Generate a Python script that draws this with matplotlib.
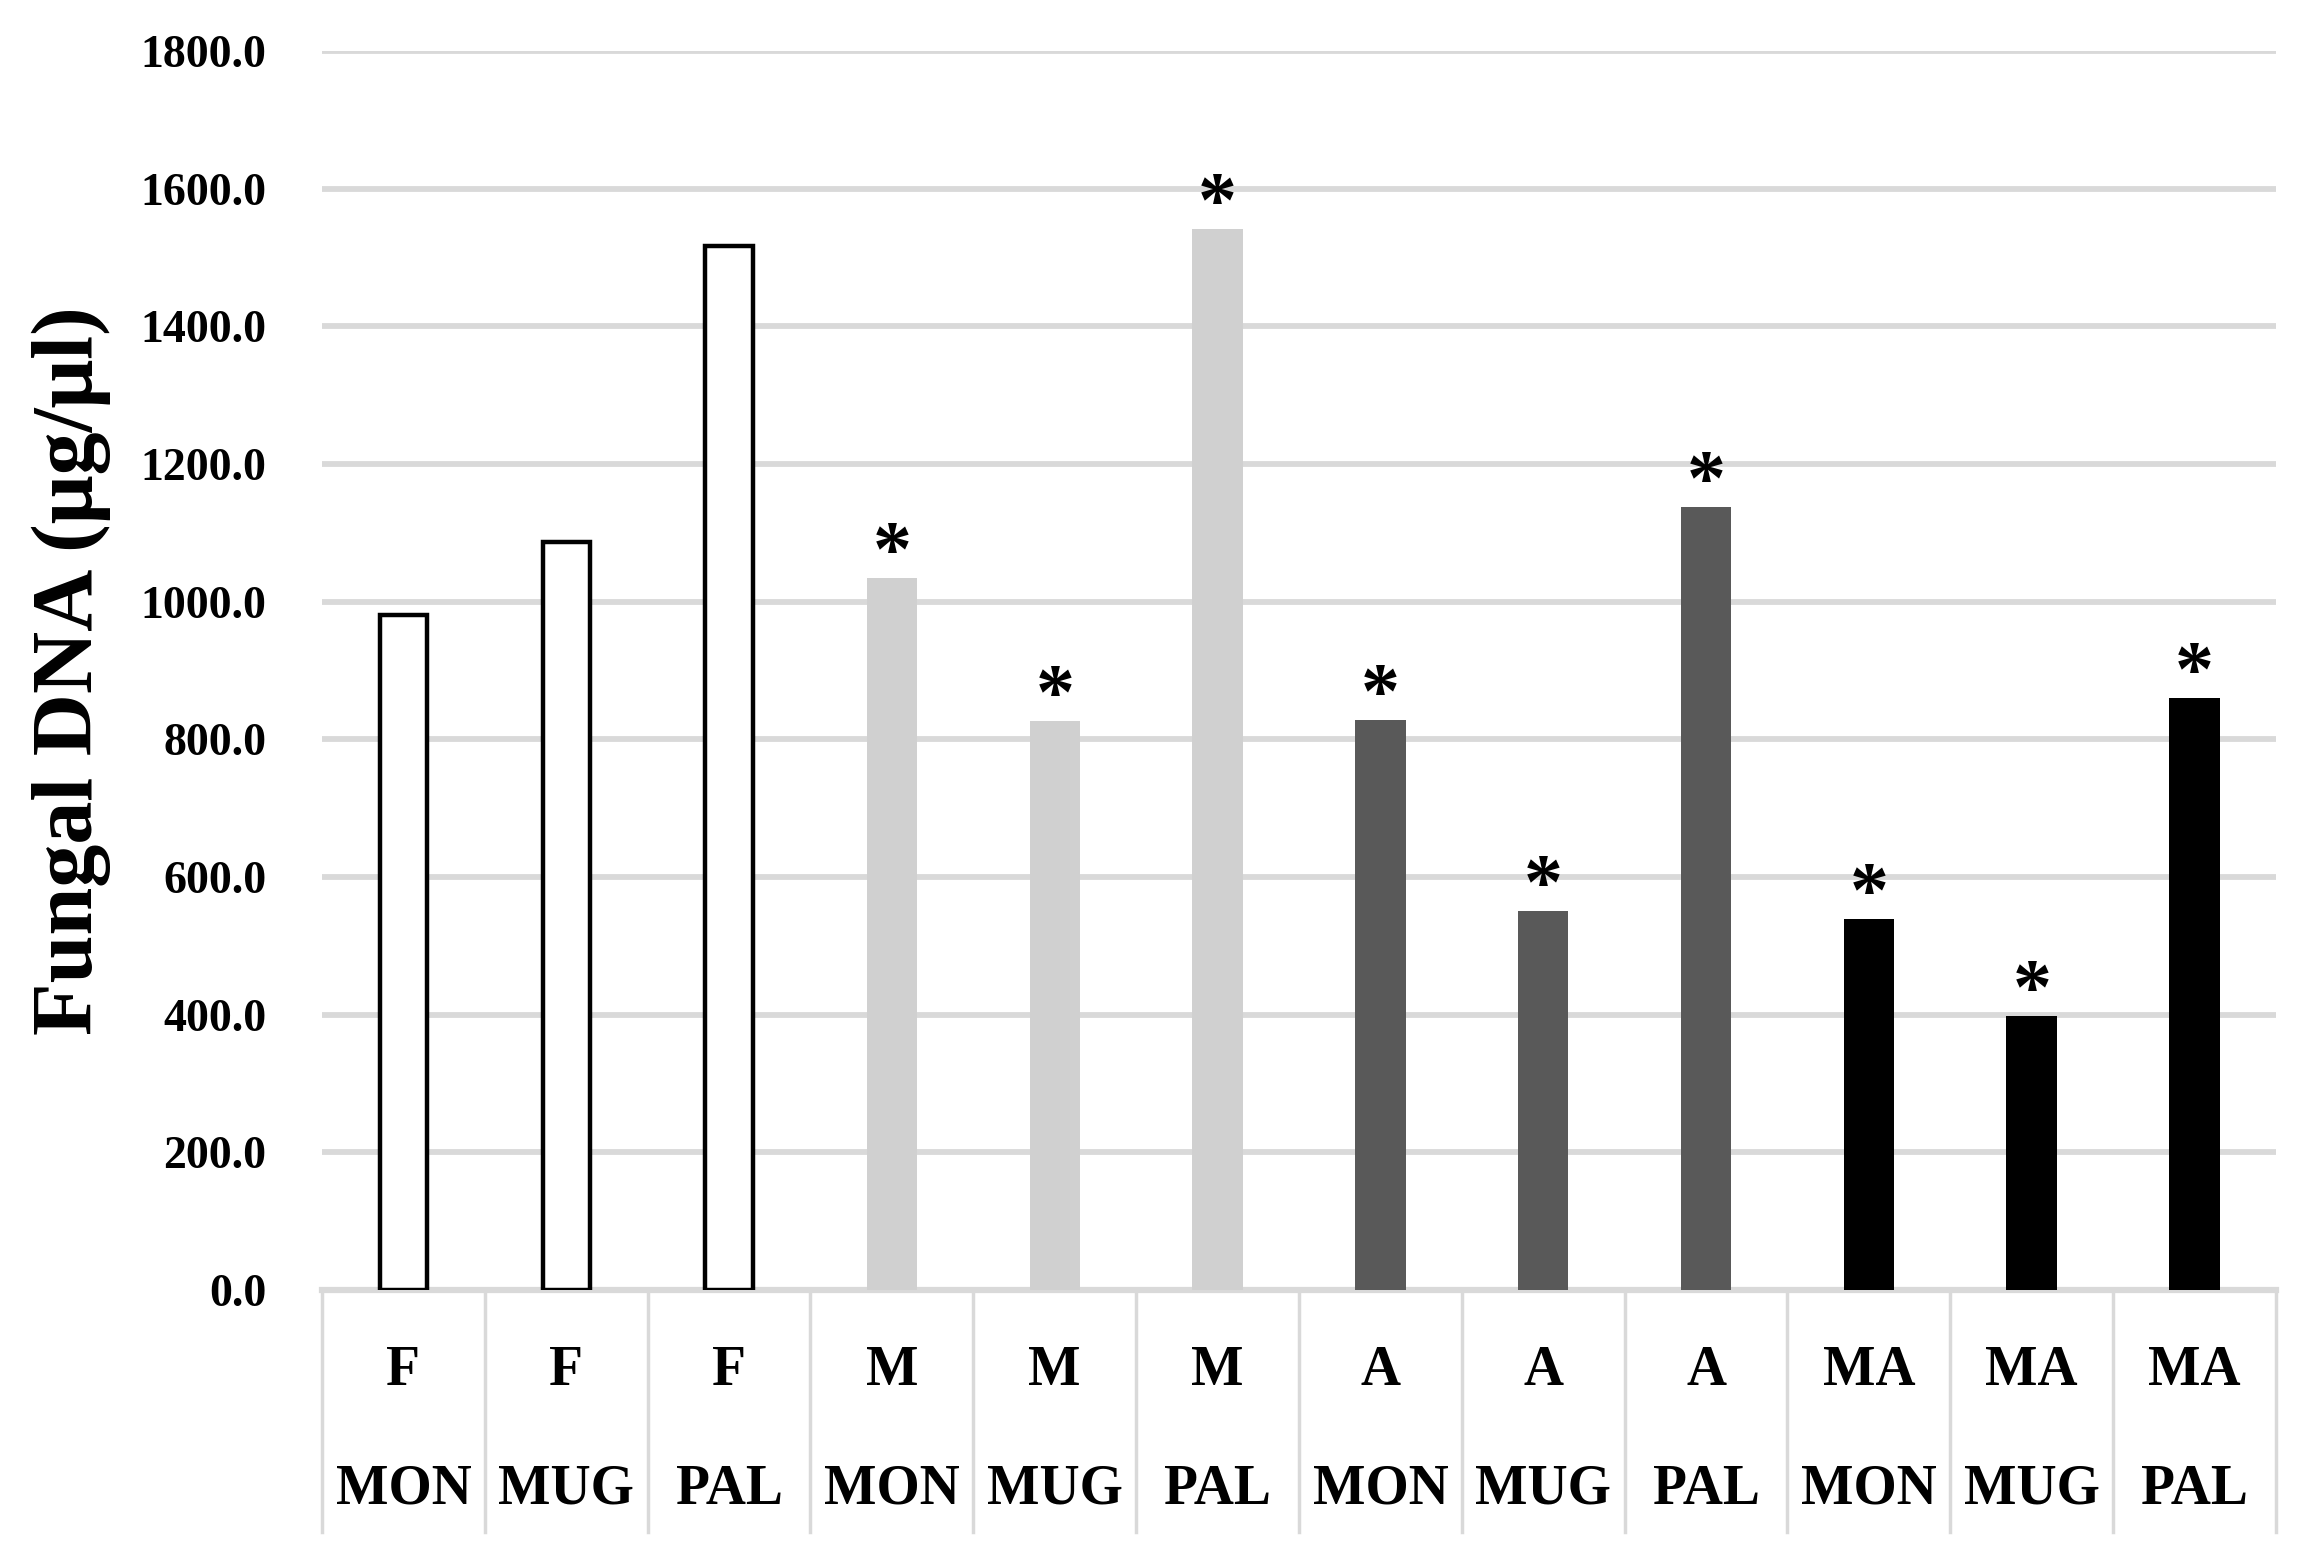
import matplotlib.pyplot as plt
from matplotlib.transforms import blended_transform_factory

# treatment (row 1) and cultivar (row 2) for each bar
treatments = ['F', 'F', 'F', 'M', 'M', 'M', 'A', 'A', 'A', 'MA', 'MA', 'MA']
cultivars = ['MON', 'MUG', 'PAL'] * 4
fungal_dna = [980, 1087, 1517, 1034, 826, 1541, 828, 550, 1137, 539, 398, 860]
significant = [False, False, False, True, True, True, True, True, True, True, True, True]

fill = {'F': 'white', 'M': '#d0d0d0', 'A': '#595959', 'MA': 'black'}

plt.rcParams['font.family'] = ['Liberation Serif', 'DejaVu Serif']
plt.rcParams['font.weight'] = 'bold'

fig = plt.figure(figsize=(23.05, 15.55), dpi=100)
ax = fig.add_axes([0.1397, 0.1704, 0.8477, 0.7968])

x = list(range(len(fungal_dna)))
for i in x:
    t = treatments[i]
    if t == 'F':
        ax.bar(i, fungal_dna[i], width=0.29, color='white', edgecolor='black', linewidth=3.2, zorder=3)
    else:
        ax.bar(i, fungal_dna[i], width=0.31, color=fill[t], linewidth=0, zorder=3)
    if significant[i]:
        ax.annotate('*', (i, fungal_dna[i]), xytext=(0, -9), textcoords='offset points',
                    ha='center', va='bottom', fontsize=56, fontweight='bold', zorder=4)

ax.set_xlim(-0.5, len(x) - 0.5)
ax.set_ylim(0, 1800)
ax.set_yticks(range(0, 1801, 200))
ax.set_yticklabels([f'{v:.1f}' for v in range(0, 1801, 200)], fontsize=33, fontweight='bold')
ax.tick_params(axis='y', length=0, pad=40)
ax.grid(axis='y', color='#d9d9d9', linewidth=4.2, zorder=0)
ax.set_axisbelow(True)
for s in ['top', 'right', 'left']:
    ax.spines[s].set_visible(False)
ax.spines['bottom'].set_color('#d9d9d9')
ax.spines['bottom'].set_linewidth(4.5)

# two-row category axis with separator lines
ax.set_xticks([])
trans = blended_transform_factory(ax.transData, ax.transAxes)
for b in range(len(x) + 1):
    ax.plot([b - 0.5, b - 0.5], [0, -0.195], transform=trans, color='#d9d9d9',
            linewidth=2.5, clip_on=False)
for i in x:
    ax.text(i, -0.065, treatments[i], transform=trans, ha='center', va='center',
            fontsize=40, fontweight='bold')
    ax.text(i, -0.161, cultivars[i], transform=trans, ha='center', va='center',
            fontsize=40, fontweight='bold')

ax.set_ylabel('Fungal DNA (μg/μl)', fontsize=62, fontweight='bold')
ax.yaxis.set_label_coords(-0.108, 0.5)

fig.savefig('out.png', dpi=100)
